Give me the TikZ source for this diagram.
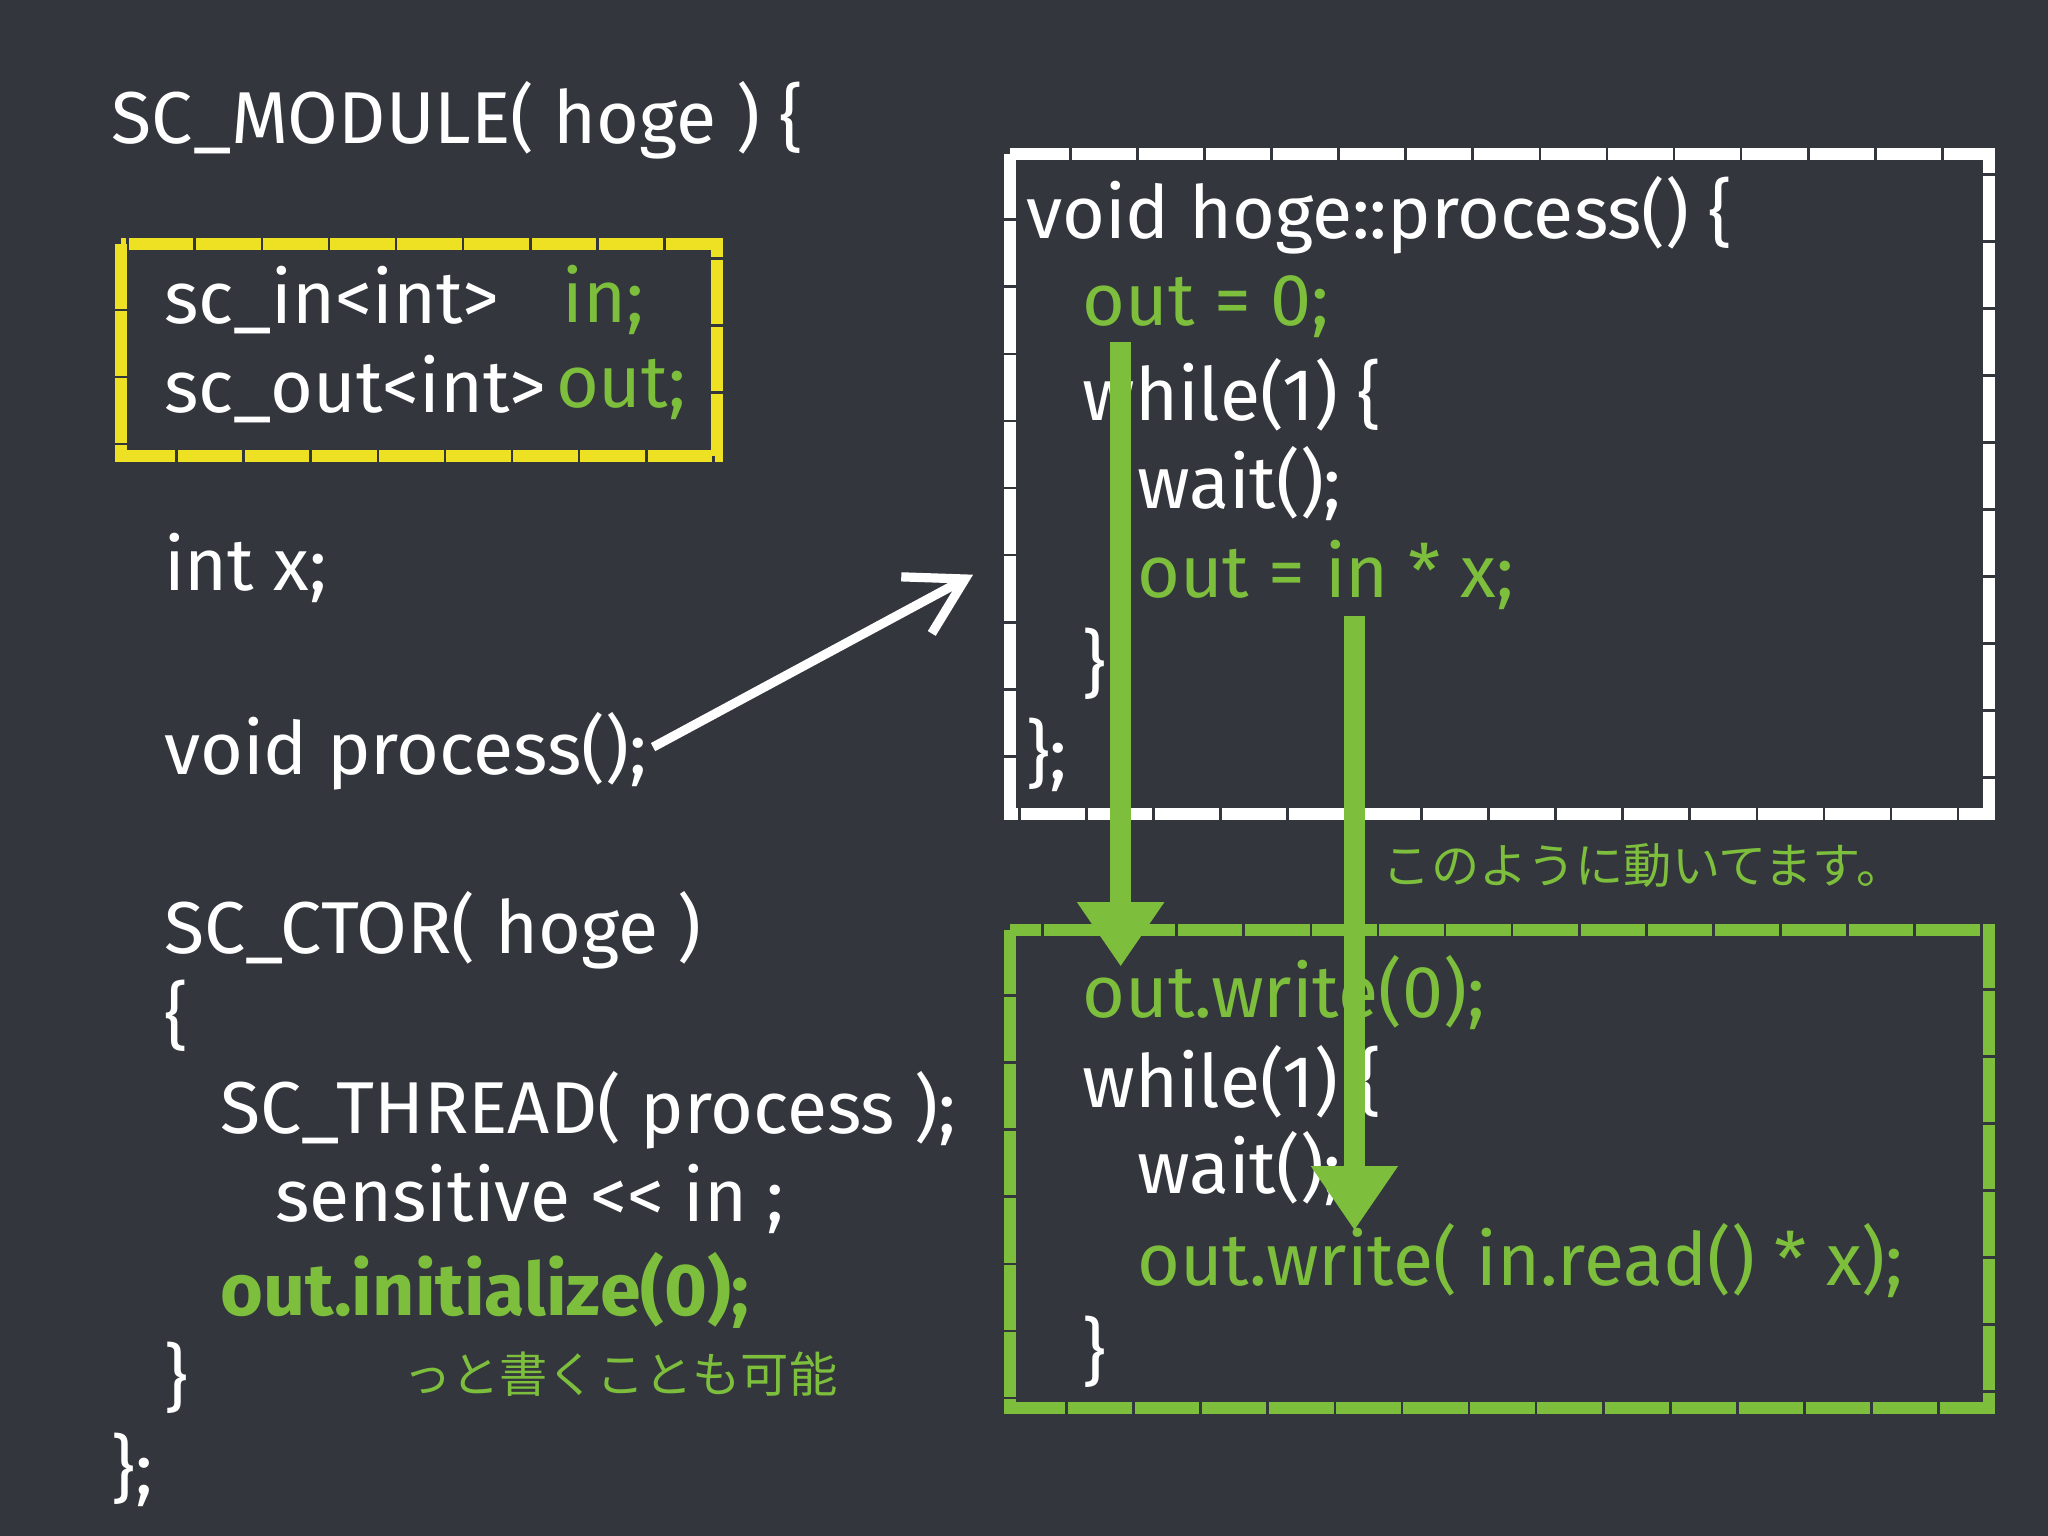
\documentclass[tikz,border=0pt]{standalone}
\usepackage{fontspec}
\setmainfont{Fira Sans}
\newfontfamily\jpfont{Noto Sans CJK JP}
\usetikzlibrary{arrows.meta}
\definecolor{bg}{HTML}{33373D}
\definecolor{chalkgreen}{HTML}{7DBF3C}
\definecolor{chalkyellow}{HTML}{EEE022}
\tikzset{
  code/.style={anchor=west,text=white,font=\fontsize{16}{18}\selectfont,inner sep=0pt},
  gcode/.style={code,text=chalkgreen},
  jp/.style={anchor=west,text=chalkgreen,font=\jpfont\fontsize{10.5}{12}\selectfont,inner sep=0pt},
  box/.style={line width=2.6pt,dash pattern=on 14pt off 0.6pt},
  flow/.style={draw=chalkgreen,line width=4.5pt,-{Triangle[length=14pt,width=18pt]}}
}
\begin{document}
\begin{tikzpicture}[x=0.01cm,y=-0.01cm]
\fill[bg] (0,0) rectangle (1568,1176);
\useasboundingbox (0,0) rectangle (1568,1176);
% left column
\node[code] (m1) at (85,92) {SC\_MODULE( hoge ) \{};
\draw[box,draw=chalkyellow] (93,187) rectangle (549,349);
\node[code] (p1) at (125,230) {sc\_in<int>};
\node[gcode] (p1b) at (430,230) {in;};
\node[code] (p2) at (125,298) {sc\_out<int>};
\node[gcode] (p2b) at (425,298) {out;};
\node[code] (x) at (125,435) {int x;};
\node[code] (vp) at (125,575) {void process();};
\node[code] (ct) at (125,712) {SC\_CTOR( hoge )};
\node[code] (ob) at (125,778) {\{};
\node[code] (th) at (168,850) {SC\_THREAD( process );};
\node[code] (se) at (210,918) {sensitive {<}{<} in ;};
\node[gcode,font=\bfseries\fontsize{16}{18}\selectfont] (oi) at (168,988) {out.initialize(0);};
\node[code] (cb) at (125,1055) {\}};
\node[jp] (j1) at (308,1052) {っと書くことも可能};
\node[code] (end) at (85,1125) {\};};
% white box
\draw[box,draw=white] (773,118) rectangle (1523,623);
\node[code] (a1) at (785,165) {void hoge::process() \{};
\node[gcode] (a2) at (828,235) {out = 0;};
\node[code] (a3) at (828,302) {while(1) \{};
\node[code] (a4) at (870,370) {wait();};
\node[gcode] (a5) at (870,440) {out = in * x;};
\node[code] (a6) at (828,508) {\}};
\node[code] (a7) at (785,578) {\};};
% green box
\draw[box,draw=chalkgreen] (773,712) rectangle (1523,1078);
\node[gcode] (b1) at (828,760) {out.write(0);};
\node[code] (b2) at (828,828) {while(1) \{};
\node[code] (b3) at (870,895) {wait();};
\node[gcode] (b4) at (870,965) {out.write( in.read() * x);};
\node[code] (b5) at (828,1035) {\}};
\node[jp] (j2) at (1058,663) {このように動いてます。};
% arrows
\coordinate (arS) at (500,572);
\coordinate (arE) at (745,440);
\draw[white,line width=2pt,-{Straight Barb[length=12pt,width=14pt]}] (arS) -- (arE);
\coordinate (f1s) at (858,262);
\coordinate (f1e) at (858,740);
\coordinate (f2s) at (1037,472);
\coordinate (f2e) at (1037,942);
\draw[flow] (f1s) -- (f1e);
\draw[flow] (f2s) -- (f2e);
\end{tikzpicture}
\end{document}
